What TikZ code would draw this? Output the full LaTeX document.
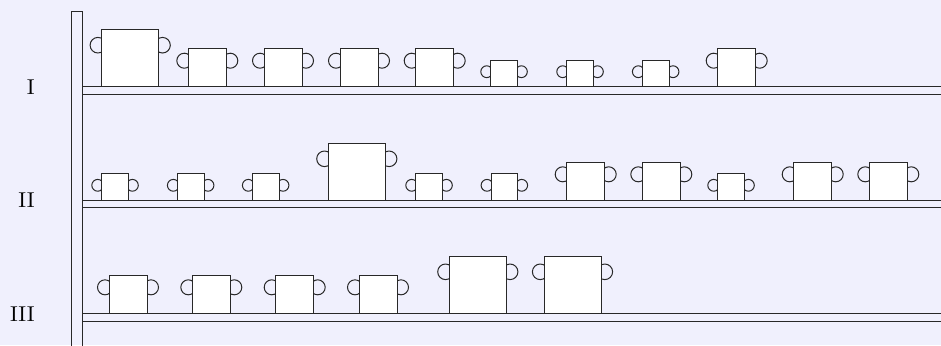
\documentclass[tikz,border=0pt]{standalone}
\definecolor{bgcol}{RGB}{240,240,253}
\definecolor{linecol}{RGB}{40,40,40}
\tikzset{
  potbox/.style={draw=linecol, fill=white, line width=0.5pt},
  handle/.style={draw=linecol, line width=0.5pt},
  frame/.style={draw=linecol, line width=0.5pt},
  lbl/.style={anchor=base east, inner sep=0pt, font=\fontsize{10.75pt}{13pt}\selectfont},
  potL/.pic={
    \draw[handle] (-3.8,-41.5) circle[radius=3.9pt];
    \draw[handle] (60.8,-41.5) circle[radius=3.9pt];
    \draw[potbox] (0,0) rectangle (57,-57);
  },
  potM/.pic={
    \draw[handle] (-4,-26) circle[radius=3.75pt];
    \draw[handle] (42,-26) circle[radius=3.75pt];
    \draw[potbox] (0,0) rectangle (38,-38);
  },
  potS/.pic={
    \draw[handle] (-4,-15) circle[radius=2.95pt];
    \draw[handle] (30.7,-15) circle[radius=2.95pt];
    \draw[potbox] (0,0) rectangle (26.7,-26.7);
  },
}
\begin{document}
\begin{tikzpicture}[x=0.5pt,y=-0.5pt]
  \fill[bgcol] (0,0) rectangle (941,345);
  \useasboundingbox (0,0) rectangle (941,345);
  % post
  \draw[frame] (71.7,360) -- (71.7,11) -- (82.7,11) -- (82.7,360);
  % shelves
  \draw[frame] (82.7,86.7) rectangle (960,94.3);
  \draw[frame] (82.7,200.3) rectangle (960,207.7);
  \draw[frame] (82.7,313.3) rectangle (960,321);
  % labels
  \node[lbl] (l1) at (35,94.3) {I};
  \node[lbl] (l2) at (35,207.7) {II};
  \node[lbl] (l3) at (35,321) {III};
  % row I
  \pic at (101.7,86.7) {potL};
  \pic at (188.3,86.7) {potM};
  \pic at (264,86.7) {potM};
  \pic at (340,86.7) {potM};
  \pic at (415.7,86.7) {potM};
  \pic at (490.7,86.7) {potS};
  \pic at (566.7,86.7) {potS};
  \pic at (642.3,86.7) {potS};
  \pic at (717.7,86.7) {potM};
  % row II
  \pic at (101.7,200.3) {potS};
  \pic at (177.3,200.3) {potS};
  \pic at (252.3,200.3) {potS};
  \pic at (328.3,200.3) {potL};
  \pic at (415.7,200.3) {potS};
  \pic at (491,200.3) {potS};
  \pic at (566.7,200.3) {potM};
  \pic at (642.3,200.3) {potM};
  \pic at (717.7,200.3) {potS};
  \pic at (793.7,200.3) {potM};
  \pic at (869.3,200.3) {potM};
  % row III
  \pic at (109,313.3) {potM};
  \pic at (192.3,313.3) {potM};
  \pic at (275.7,313.3) {potM};
  \pic at (359,313.3) {potM};
  \pic at (449.3,313.3) {potL};
  \pic at (544,313.3) {potL};
\end{tikzpicture}
\end{document}
